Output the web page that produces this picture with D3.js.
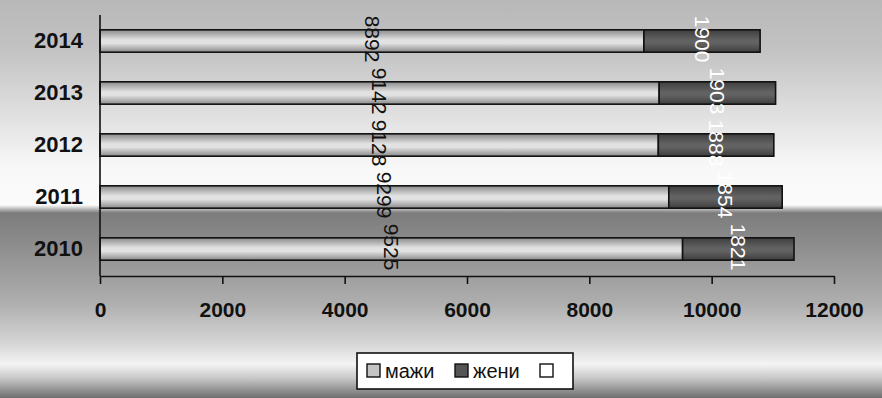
<!DOCTYPE html>
<html>
<head>
<meta charset="utf-8">
<script src="https://cdn.jsdelivr.net/npm/d3@7"></script>
<style>
  html, body { margin: 0; padding: 0; background: #fff; }
  svg { display: block; }
  text { font-family: "Liberation Sans", Arial, sans-serif; }
</style>
</head>
<body>
<script>
// Population by sex, per year
const years = ["2014", "2013", "2012", "2011", "2010"];
const men   = [8892, 9142, 9128, 9299, 9525];
const women = [1900, 1903, 1888, 1854, 1821];
const seriesNames = ["мажи", "жени", ""];
const xTicks = [0, 2000, 4000, 6000, 8000, 10000, 12000];

const W = 882, H = 398;
const svg = d3.select("body").append("svg").attr("width", W).attr("height", H);
const defs = svg.append("defs");

// Background: banded vertical gradient
const bg = defs.append("linearGradient").attr("id", "bg")
  .attr("x1", 0).attr("y1", 0).attr("x2", 0).attr("y2", 1);
[[0, "#b8b8b8"], [0.12, "#c2c2c2"], [0.3, "#e2e2e2"], [0.42, "#f8f8f8"],
 [0.515, "#fbfbfb"], [0.535, "#7c7c7c"], [0.62, "#8e8e8e"], [0.76, "#aeaeae"],
 [0.86, "#d4d4d4"], [0.915, "#f4f4f4"], [0.95, "#c8c8c8"], [1, "#6e6e6e"]]
  .forEach(([o, c]) => bg.append("stop").attr("offset", o).attr("stop-color", c));
svg.append("rect").attr("width", W).attr("height", H).attr("fill", "url(#bg)");

// Cylinder-like shading for the bar segments
function barGrad(id, edge, mid) {
  const g = defs.append("linearGradient").attr("id", id)
    .attr("x1", 0).attr("y1", 0).attr("x2", 0).attr("y2", 1);
  [[0, edge], [0.45, mid], [0.6, mid], [1, edge]]
    .forEach(([o, c]) => g.append("stop").attr("offset", o).attr("stop-color", c));
}
barGrad("gMen", "#8a8a8a", "#e2e2e2");
barGrad("gWomen", "#3e3e3e", "#626262");
const fills = ["url(#gMen)", "url(#gWomen)", "#ffffff"];

const x = d3.scaleLinear().domain([0, 12000]).range([100, 834]);
const y = d3.scaleBand().domain(years).range([15, 275])
  .paddingInner(0.57).paddingOuter(0.285);

// Stacked segments
const rows = years.map((yr, i) => ({ year: yr, men: men[i], women: women[i] }));
const stack = d3.stack().keys(["men", "women"])(rows);

const layers = svg.append("g").selectAll("g").data(stack).join("g")
  .attr("fill", (d, i) => fills[i]);
layers.selectAll("rect").data(d => d).join("rect")
  .attr("x", d => x(d[0]))
  .attr("y", d => y(d.data.year))
  .attr("width", d => x(d[1]) - x(d[0]))
  .attr("height", y.bandwidth())
  .attr("stroke", "#111").attr("stroke-width", 1.6);

// Value labels, rotated, centred on each segment
layers.each(function(layer, li) {
  d3.select(this).selectAll("text").data(layer).join("text")
    .attr("transform", d => `translate(${x((d[0] + d[1]) / 2)},${y(d.data.year) + y.bandwidth() / 2 - 2}) rotate(90)`)
    .attr("text-anchor", "middle").attr("dy", "0.35em")
    .attr("font-size", 21)
    .attr("fill", li === 0 ? "#111" : "#fff")
    .text(d => d[1] - d[0]);
});

// Axes
const xAxis = svg.append("g").attr("transform", "translate(0,276)")
  .call(d3.axisBottom(x).tickValues(xTicks).tickFormat(d3.format("d"))
    .tickSize(8).tickPadding(18).tickSizeOuter(0));
xAxis.select(".domain").attr("stroke", "#111").attr("stroke-width", 1.6);
xAxis.selectAll(".tick line").attr("stroke", "#111").attr("stroke-width", 1.6);
xAxis.selectAll("text").attr("font-size", 21).attr("font-weight", "bold")
  .attr("fill", "#111").style("font-family", "'Liberation Sans', Arial, sans-serif");

const yAxis = svg.append("g").attr("transform", "translate(100,0)")
  .call(d3.axisLeft(y).tickSize(0).tickPadding(17));
yAxis.select(".domain").attr("stroke", "#111").attr("stroke-width", 1.6)
  .attr("d", "M0,15V276");
yAxis.selectAll("text").attr("font-size", 22).attr("font-weight", "bold")
  .attr("fill", "#111").style("font-family", "'Liberation Sans', Arial, sans-serif");

// Legend
const lg = svg.append("g");
lg.append("rect").attr("x", 357).attr("y", 353).attr("width", 216).attr("height", 36)
  .attr("fill", "#fff").attr("stroke", "#111").attr("stroke-width", 1.6);
const legendX = [367, 455, 540];
seriesNames.forEach((name, i) => {
  lg.append("rect").attr("x", legendX[i]).attr("y", 364).attr("width", 13).attr("height", 13)
    .attr("fill", i === 0 ? "#c4c4c4" : i === 1 ? "#555" : "#fff")
    .attr("stroke", "#111").attr("stroke-width", 1.4);
  if (name) lg.append("text").attr("x", legendX[i] + 18).attr("y", 371).attr("dy", "0.35em")
    .attr("font-size", 20).attr("fill", "#111").text(name);
});
</script>
</body>
</html>
